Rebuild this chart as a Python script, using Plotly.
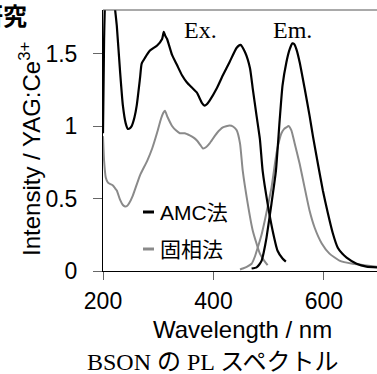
import plotly.graph_objects as go

# ---- data ----
amc_ex_x = [200, 202, 205, 212, 218, 222, 225, 231, 236, 241, 245, 249, 252, 257, 261, 267, 270, 276, 285, 298,
            307, 310, 313, 316, 325, 334, 343, 352, 361, 370, 379, 384, 388, 393, 406, 417, 429, 442, 449, 457,
            466, 471, 478, 484, 489, 498, 507, 516, 525, 531]
amc_ex_y = [0.95, 1.6, 1.95, 2.05, 1.95, 1.80, 1.69, 1.37, 1.14, 1.02, 0.98, 0.985, 1.0, 1.06, 1.14, 1.33, 1.43, 1.47, 1.52, 1.555,
            1.60, 1.65, 1.62, 1.60, 1.49, 1.42, 1.35, 1.30, 1.265, 1.23, 1.16, 1.14, 1.15, 1.175, 1.26, 1.35, 1.44, 1.54, 1.56, 1.51,
            1.40, 1.26, 1.07, 0.91, 0.69, 0.465, 0.28, 0.14, 0.086, 0.065]

ss_ex_x = [200, 202, 205, 209, 213, 218, 222, 225, 231, 236, 240, 244, 247, 254, 267, 280, 289, 298, 305, 309,
           312, 317, 325, 332, 339, 348, 357, 364, 370, 376, 381, 387, 393, 406, 417, 429, 436, 442, 448, 453,
           462, 471, 484, 492, 498]
ss_ex_y = [0.93, 0.76, 0.645, 0.61, 0.60, 0.59, 0.57, 0.555, 0.49, 0.455, 0.445, 0.45, 0.465, 0.52, 0.66, 0.76, 0.845, 0.955, 1.05, 1.09,
           1.105, 1.06, 1.0, 0.97, 0.95, 0.95, 0.935, 0.92, 0.90, 0.87, 0.845, 0.855, 0.88, 0.95, 0.99, 1.003, 0.995, 0.97, 0.88, 0.69,
           0.465, 0.28, 0.12, 0.07, 0.04]

amc_em_x = [469, 478, 483, 487, 491, 496, 505, 513, 520, 525, 532, 538, 543, 546, 550, 556, 565, 574, 580, 589,
            598, 607, 616, 625, 633, 641, 659, 677, 696]
amc_em_y = [0.017, 0.025, 0.045, 0.07, 0.13, 0.23, 0.465, 0.69, 1.05, 1.28, 1.44, 1.53, 1.57, 1.565, 1.53, 1.44, 1.26, 1.07, 0.93, 0.74,
            0.555, 0.40, 0.26, 0.16, 0.12, 0.093, 0.05, 0.03, 0.025]

ss_em_x = [448, 453, 461, 469, 475, 480, 487, 493, 499, 505, 514, 519, 523, 528, 532, 536, 541, 547, 556, 565,
           574, 583, 596, 610, 628, 652, 677, 696]
ss_em_y = [0.01, 0.017, 0.03, 0.05, 0.1, 0.16, 0.25, 0.35, 0.46, 0.575, 0.81, 0.9, 0.95, 0.98, 0.99, 1.0, 0.97, 0.88, 0.74, 0.575,
           0.415, 0.30, 0.19, 0.12, 0.072, 0.05, 0.038, 0.03]

x_ticks = [200, 400, 600]
y_ticks = [0, 0.5, 1, 1.5]
y_ticklabels = ["0", "0.5", "1", "1.5"]
series_names = ["AMC法", "固相法"]

BLACK = "#000000"
GRAY = "#8a8a8a"
SANS = "Liberation Sans, Arial, Noto Sans CJK JP, sans-serif"
SERIF = "Liberation Serif, Times New Roman, Noto Sans CJK JP, serif"

fig = go.Figure()
line_kw = dict(mode="lines", line_shape="spline", hoverinfo="skip", showlegend=False)
fig.add_trace(go.Scatter(x=ss_ex_x, y=ss_ex_y, line=dict(color=GRAY, width=2, smoothing=0.5), **line_kw))
fig.add_trace(go.Scatter(x=ss_em_x, y=ss_em_y, line=dict(color=GRAY, width=2, smoothing=0.5), **line_kw))
fig.add_trace(go.Scatter(x=amc_ex_x, y=amc_ex_y, line=dict(color=BLACK, width=2.2, smoothing=0.5), **line_kw))
fig.add_trace(go.Scatter(x=amc_em_x, y=amc_em_y, line=dict(color=BLACK, width=2.2, smoothing=0.5), **line_kw))

W, H = 377, 374
L, R, T, B = 103, 0, 10, 103
pw, ph = W - L - R, H - T - B

def px(xp):
    return (xp - L) / pw

def py(yp):
    return (H - B - yp) / ph

fig.update_layout(
    width=W, height=H,
    margin=dict(l=L, r=R, t=T, b=B, pad=0),
    paper_bgcolor="white", plot_bgcolor="white",
    font=dict(family=SANS, size=22, color="black"),
    xaxis=dict(range=[200, 696], tickvals=x_ticks, ticks="outside", ticklen=8, tickcolor="#666",
               showline=True, linecolor="black", linewidth=1, showgrid=False, zeroline=False,
               tickfont=dict(size=23), ticklabelstandoff=1),
    yaxis=dict(range=[0, 1.8], tickvals=y_ticks, ticktext=y_ticklabels, ticks="outside", ticklen=9,
               tickcolor="#666", showline=True, linecolor="black", linewidth=1, showgrid=False,
               zeroline=False, tickfont=dict(size=23), ticklabelstandoff=11),
    shapes=[
        dict(type="line", xref="paper", yref="paper", x0=0, x1=1, y0=1, y1=1,
             line=dict(color="#555", width=1)),
        dict(type="line", xref="paper", yref="paper", x0=px(143), x1=px(154), y0=py(212), y1=py(212),
             line=dict(color=BLACK, width=3)),
        dict(type="line", xref="paper", yref="paper", x0=px(143), x1=px(154), y0=py(249), y1=py(249),
             line=dict(color=GRAY, width=3)),
    ],
    annotations=[
        dict(text="Intensity / YAG:Ce<sup>3+</sup>", xref="paper", yref="paper", x=px(30), y=py(149),
             textangle=-90, showarrow=False, xanchor="center", yanchor="middle", font=dict(size=24)),
        dict(text="Wavelength / nm", xref="paper", yref="paper", x=px(242), y=py(329),
             showarrow=False, xanchor="center", yanchor="middle", font=dict(size=24)),
        dict(text="BSON の PL スペクトル", xref="paper", yref="paper", x=px(212), y=py(362),
             showarrow=False, xanchor="center", yanchor="middle", font=dict(family=SERIF, size=24)),
        dict(text="Ex.", xref="paper", yref="paper", x=px(182), y=py(30),
             showarrow=False, xanchor="left", yanchor="middle", font=dict(family=SERIF, size=24)),
        dict(text="Em.", xref="paper", yref="paper", x=px(271), y=py(30),
             showarrow=False, xanchor="left", yanchor="middle", font=dict(family=SERIF, size=24)),
        dict(text=series_names[0], xref="paper", yref="paper", x=px(158), y=py(212),
             showarrow=False, xanchor="left", yanchor="middle", font=dict(size=21)),
        dict(text=series_names[1], xref="paper", yref="paper", x=px(158), y=py(249),
             showarrow=False, xanchor="left", yanchor="middle", font=dict(size=21)),
        dict(text="<b>研究</b>", xref="paper", yref="paper", x=px(29), y=py(14),
             showarrow=False, xanchor="right", yanchor="middle",
             font=dict(family="Noto Sans CJK JP", size=24)),
    ],
)

fig.write_html("out.html")
